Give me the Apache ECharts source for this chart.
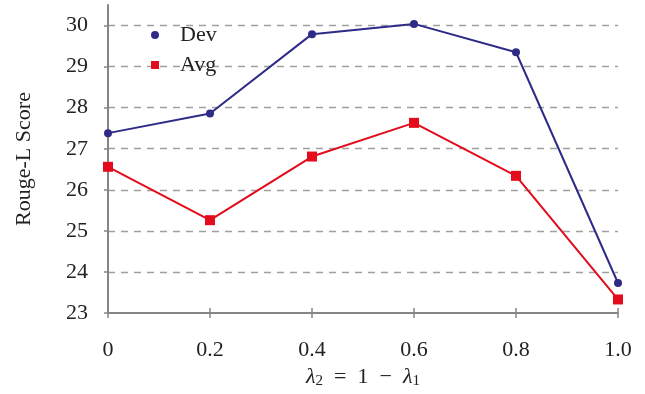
<!DOCTYPE html>
<html>
<head>
<meta charset="utf-8">
<script src="https://cdn.jsdelivr.net/npm/echarts@6/dist/echarts.min.js"></script>
<style>html,body{margin:0;padding:0;background:#fff;}#c{width:645px;height:394px;}</style>
</head>
<body>
<div id="c"></div>
<script>
const xValues = [0, 0.2, 0.4, 0.6, 0.8, 1.0];
const devScores = [27.38, 27.86, 29.79, 30.04, 29.35, 23.73];
const avgScores = [26.56, 25.26, 26.81, 27.63, 26.34, 23.33];
const yTicks = [23, 24, 25, 26, 27, 28, 29, 30];
const xTickLabels = ['0', '0.2', '0.4', '0.6', '0.8', '1.0'];
const seriesNames = ['Dev', 'Avg'];

const FONT = 'Liberation Serif';
const FS = 22;
const AX = '#858585';
const DEV = '#2e2a87';
const AVG = '#e30b1c';

const chart = echarts.init(document.getElementById('c'), null, {renderer: 'canvas'});
chart.setOption({
  animation: false,
  backgroundColor: '#fff',
  textStyle: {fontFamily: FONT},
  grid: {left: 108, right: 27, top: 5, bottom: 77, containLabel: false},
  legend: {
    orient: 'vertical',
    left: 146, top: 19,
    itemGap: 8,
    itemWidth: 8, itemHeight: 8,
    textStyle: {fontFamily: FONT, fontSize: FS, color: '#222', padding: [0, 0, 0, 16]},
    data: [
      {name: seriesNames[0], icon: 'circle', itemStyle: {color: DEV}},
      {name: seriesNames[1], icon: 'rect', itemStyle: {color: AVG}}
    ]
  },
  xAxis: [{
    type: 'value', min: 0, max: 1, interval: 0.2,
    axisLine: {show: true, onZero: false, lineStyle: {color: AX, width: 2}},
    axisTick: {show: true, inside: false, length: 5, lineStyle: {color: AX, width: 1.5}},
    axisLabel: {
      margin: 26, fontFamily: FONT, fontSize: FS, color: '#222',
      formatter: v => xTickLabels[Math.round(v * 5)]
    },
    splitLine: {show: false},
    name: '{i|λ}{s|2}  =  1  −  {i|λ}{s|1}',
    nameLocation: 'middle', nameGap: 52,
    nameTextStyle: {
      fontFamily: FONT, fontSize: FS, color: '#222',
      rich: {
        i: {fontFamily: FONT, fontSize: FS, fontStyle: 'italic', color: '#222'},
        s: {fontFamily: FONT, fontSize: 15, color: '#222', verticalAlign: 'bottom', padding: [9, 0, 0, 0]}
      }
    }
  }, {
    type: 'value', min: 0, max: 1, interval: 0.2, position: 'bottom', offset: 0,
    axisLine: {show: false, onZero: false},
    axisTick: {show: true, inside: true, length: 5, lineStyle: {color: AX, width: 1.5}},
    axisLabel: {show: false},
    splitLine: {show: false}
  }],
  yAxis: {
    type: 'value', min: 23, max: 30.5, interval: 1,
    axisLine: {show: true, onZero: false, lineStyle: {color: AX, width: 2}},
    axisTick: {show: true, length: 4, customValues: yTicks, lineStyle: {color: AX, width: 1.5}},
    axisLabel: {
      margin: 20, fontFamily: FONT, fontSize: FS, color: '#222',
      customValues: yTicks,
      formatter: v => String(v)
    },
    splitLine: {show: true, showMinLine: false,
      lineStyle: {color: '#a0a0a0', width: 1.3, type: [7, 6]}},
    name: 'Rouge-L Score',
    nameLocation: 'middle', nameGap: 73,
    nameTextStyle: {fontFamily: FONT, fontSize: FS, color: '#222'}
  },
  series: [{
    name: seriesNames[0], type: 'line',
    data: xValues.map((x, i) => [x, devScores[i]]),
    symbol: 'circle', symbolSize: 8,
    lineStyle: {color: DEV, width: 2},
    itemStyle: {color: DEV},
    z: 3
  }, {
    name: seriesNames[1], type: 'line',
    data: xValues.map((x, i) => [x, avgScores[i]]),
    symbol: 'rect', symbolSize: 10,
    lineStyle: {color: AVG, width: 2},
    itemStyle: {color: AVG},
    z: 2
  }]
});
</script>
</body>
</html>
